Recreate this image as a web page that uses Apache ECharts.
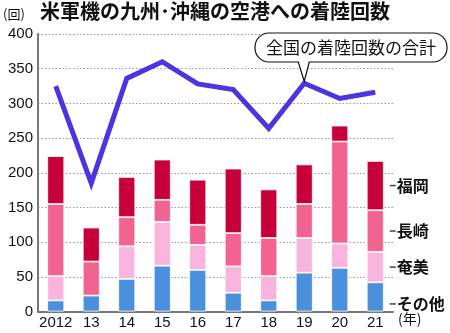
<!DOCTYPE html>
<html><head><meta charset="utf-8">
<script src="https://cdn.jsdelivr.net/npm/echarts@6/dist/echarts.min.js"></script>
<style>html,body{margin:0;padding:0;background:#fff}#c{width:450px;height:333px}</style>
</head><body><div id="c"></div>
<script>
const categories = ['2012','13','14','15','16','17','18','19','20','21'];
const other    = [16, 23, 47, 66, 60, 27, 16, 56, 63, 42];
const amami    = [35, 0, 47, 63, 36, 38, 35, 50, 35, 44];
const nagasaki = [104, 49, 42, 32, 29, 48, 55, 49, 147, 60];
const fukuoka  = [69, 49, 58, 58, 65, 93, 70, 57, 23, 71];
const total    = [325, 185, 336, 360, 328, 320, 264, 329, 307, 316];
const seriesNames = ['その他','奄美','長崎','福岡'];
const yTicks = [0,50,100,150,200,250,300,350,400];

const FONT = "'Liberation Sans','Noto Sans CJK JP',sans-serif";
const JP = "'Noto Sans CJK JP',sans-serif";
const chart = echarts.init(document.getElementById('c'), null, {renderer:'canvas'});

function bar(name, data, color, offset){
  return {
    name, type:'bar', stack:'s', data, barWidth:17,
    itemStyle:{color, borderColor:'#fff', borderWidth:0.8},
    label:{
      show:true, position:'right', distance:6, offset: offset||[0,0],
      formatter:(p)=> p.dataIndex===data.length-1 ? '{d|}{t|'+name+'}' : '',
      rich:{
        d:{width:6, height:1.5, backgroundColor:'#444', verticalAlign:'middle'},
        t:{fontSize:16, fontFamily:JP, fontWeight:'bold', color:'#111', padding:[0,0,0,1]}
      }
    },
    emphasis:{disabled:true}
  };
}

chart.setOption({
  animation:false,
  backgroundColor:'#fff',
  grid:{left:38, right:57, top:34, bottom:21.5},
  xAxis:{
    type:'category', data:categories, boundaryGap:true,
    axisLine:{lineStyle:{color:'#777', width:2}},
    axisTick:{show:false},
    axisLabel:{interval:0, fontSize:15, color:'#111', fontFamily:FONT, margin:4}
  },
  yAxis:{
    type:'value', min:0, max:400, interval:50,
    axisLine:{show:true, lineStyle:{color:'#777', width:2}},
    axisTick:{show:false},
    splitLine:{lineStyle:{color:'#999', type:[1.5,2], width:1}},
    axisLabel:{fontSize:15, color:'#111', fontFamily:FONT, margin:5,
      formatter:(v)=> yTicks.includes(v) ? String(v) : ''}
  },
  series:[
    bar(seriesNames[0], other, '#4a90dc', [0,7]),
    bar(seriesNames[1], amami, '#f8b4dc'),
    bar(seriesNames[2], nagasaki, '#f2648f'),
    bar(seriesNames[3], fukuoka, '#c8003a'),
    {name:'合計', type:'line', data:total, symbol:'none', z:10,
     lineStyle:{color:'#4a35e0', width:5, join:'miter'}, emphasis:{disabled:true}}
  ]
});

// callout pointing at the 2019 total
const tip = chart.convertToPixel({xAxisIndex:0, yAxisIndex:0}, [7, total[7]]);
const bx = 255, by = 33, bw = 192, bh = 29;
chart.setOption({graphic:[
  {type:'text', left:3, top:8, style:{text:'(回)', fontSize:13, fontFamily:JP, fill:'#111'}},
  {type:'text', left:40, top:1, style:{text:'米軍機の九州･沖縄の空港への着陸回数', fontSize:20, fontWeight:'bold', fontFamily:JP, fill:'#111'}},
  {type:'text', left:398, top:312, style:{text:'(年)', fontSize:14, fontFamily:JP, fill:'#111'}},
  {type:'rect', shape:{x:bx, y:by, width:bw, height:bh, r:14}, style:{fill:'#fff', stroke:'#111', lineWidth:1.2}, z:20},
  {type:'polyline', shape:{points:[[tip[0]-6, by+bh], [tip[0], tip[1]-2], [tip[0]+5, by+bh]]}, style:{fill:'#fff', stroke:'#111', lineWidth:1.2}, z:21},
  {type:'line', shape:{x1:tip[0]-5, y1:by+bh, x2:tip[0]+4, y2:by+bh}, style:{stroke:'#fff', lineWidth:2}, z:22},
  {type:'text', x:bx+bw/2, y:by+bh/2, style:{text:'全国の着陸回数の合計', fontSize:17, fontFamily:JP, fill:'#111', align:'center', verticalAlign:'middle'}, z:23}
]});
</script></body></html>
